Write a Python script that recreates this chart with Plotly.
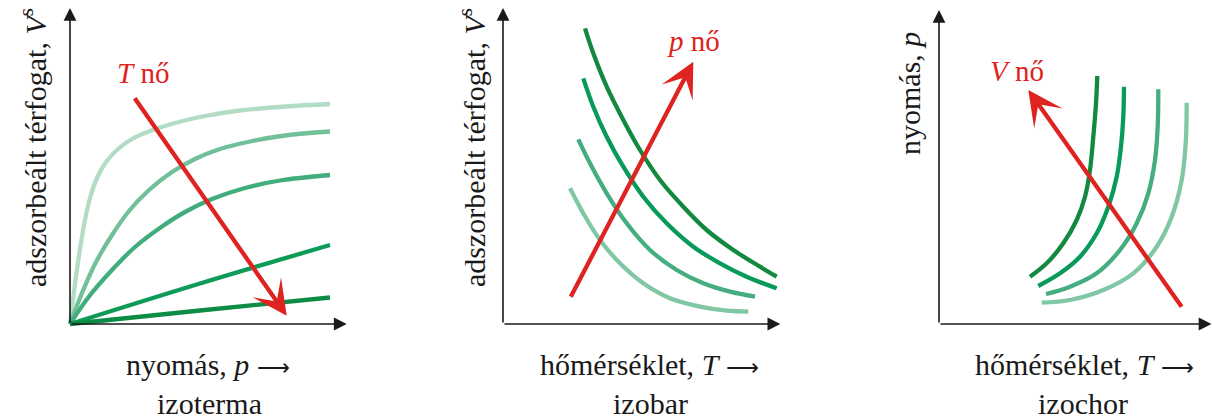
import plotly.graph_objects as go

W, H = 1212, 419

# ---------------- data (offsets from each panel's origin) ----------------
# Panel 1: izoterma  (x = pressure, y = adsorbed volume)
iso1_x = [0, 5, 10, 15, 20, 27, 36, 48, 62, 80, 105, 135, 170, 215, 260]
iso1_y = [0, 40, 75, 104, 126, 146, 162, 175, 185, 193, 201, 208, 213.5, 217.5, 220]
iso2_x = [0, 12, 25, 42, 59, 79, 102, 125, 150, 180, 215, 260]
iso2_y = [0, 31, 60, 89, 113, 134, 152, 165, 175, 182.5, 188.5, 192.5]
iso3_x = [0, 19, 42, 65, 92, 115, 142, 175, 210, 260]
iso3_y = [0, 27.5, 54, 77, 97.5, 112, 125, 136, 143.5, 149]
iso4_x = [0, 130, 260]
iso4_y = [0, 40.5, 79]
iso5_x = [0, 130, 260]
iso5_y = [0, 13.5, 26.5]
iso_arrow = [63.7, 227.3, 216.7, 8.3]      # tail x, tail y, tip x, tip y

# Panel 2: izobar (x = temperature, y = adsorbed volume)
bar1_x = [82, 90.3, 103.7, 120.3, 137, 157, 180.3, 203.7, 230.3, 257, 273.7]
bar1_y = [295.7, 270.7, 237.3, 204, 174, 144, 117.3, 94, 74, 57.3, 47.3]
bar2_x = [80.3, 90.3, 103.7, 120.3, 140.3, 163.7, 190.3, 217, 243.7, 273.7]
bar2_y = [245.7, 217.3, 187.3, 157.3, 127.3, 100.7, 77.3, 60.7, 47.3, 35.7]
bar3_x = [75.3, 87, 103.7, 123.7, 147, 173.7, 200.3, 227, 252]
bar3_y = [184.7, 160.7, 130.7, 100.7, 74, 54, 40.7, 32.3, 27.3]
bar4_x = [67, 80.3, 97, 117, 140.3, 167, 197, 223.7, 245.3]
bar4_y = [135.7, 110.7, 84, 60.7, 40.7, 25.7, 17.3, 13.3, 12.3]
bar_arrow = [67, 25.7, 190.3, 262.3]

# Panel 3: izochor (x = temperature, y = pressure)
cho1_x = [91, 107.7, 124.3, 137.7, 146, 151, 154.3, 157, 158.3]
cho1_y = [47.3, 60.7, 80.7, 104, 127.3, 154, 187.3, 220.7, 248]
cho2_x = [99.3, 121, 141, 157.7, 169.3, 177.7, 182, 184.3, 185]
cho2_y = [38, 50.7, 67.3, 90.7, 117.3, 147.3, 177.3, 207.3, 237.3]
cho3_x = [107, 131, 157.7, 181, 197.7, 209.3, 216, 218.7, 219.3]
cho3_y = [30, 37.3, 50.7, 74, 100.7, 130.7, 164, 197.3, 234.7]
cho4_x = [102.7, 131, 164.3, 194.3, 217.7, 232.7, 242.7, 246.7, 247.7]
cho4_y = [21.3, 24, 34, 50.7, 77.3, 107.3, 144, 180.7, 221.3]
cho_arrow = [243.7, 15.7, 89.3, 234]

# axis extents (x tip, y tip)
axis1 = [276.7, 316]
axis2 = [277.3, 316]
axis3 = [272.5, 314]

# texts
ARROW = '<span style="font-size:23px">⟶</span>'
arrow_labels = ["<i>T</i> nő", "<i>p</i> nő", "<i>V</i> nő"]
x_titles = ["nyomás, <i>p</i> " + ARROW, "hőmérséklet, <i>T</i> " + ARROW,
            "hőmérséklet, <i>T</i> " + ARROW]
y_titles = ["adszorbeált térfogat, <i>V</i><sup>s</sup>",
            "adszorbeált térfogat, <i>V</i><sup>s</sup>",
            "nyomás, <i>p</i>"]
panel_names = ["izoterma", "izobar", "izochor"]

# ---------------- styling ----------------
RED = "#de2320"
GREENS1 = ["#b3dcc5", "#72c09a", "#42ad7c", "#0e9b58", "#0d8c45"]
GREENS2 = ["#12893f", "#089a5a", "#45ad80", "#80c7a4"]
FONT = "Liberation Serif"
LW = 4.3

# pixel origins of the three panels
origins = [(70, 324), (503, 324), (939, 324)]
axes_ext = [axis1, axis2, axis3]
PAD = 4

fig = go.Figure()

panels = [
    [(iso1_x, iso1_y), (iso2_x, iso2_y), (iso3_x, iso3_y), (iso4_x, iso4_y), (iso5_x, iso5_y)],
    [(bar1_x, bar1_y), (bar2_x, bar2_y), (bar3_x, bar3_y), (bar4_x, bar4_y)],
    [(cho1_x, cho1_y), (cho2_x, cho2_y), (cho3_x, cho3_y), (cho4_x, cho4_y)],
]
colors = [GREENS1, GREENS2, GREENS2]
arrows = [iso_arrow, bar_arrow, cho_arrow]
label_pos = [(73, 251), (190, 283), (78, 253)]

layout_axes = {}
annotations = []
for i, (curves, cols) in enumerate(zip(panels, colors)):
    n = "" if i == 0 else str(i + 1)
    xr = f"x{n}"
    yr = f"y{n}"
    for (cx, cy), c in zip(curves, cols):
        fig.add_trace(go.Scatter(x=cx, y=cy, mode="lines", xaxis=xr, yaxis=yr,
                                 line=dict(color=c, width=LW, shape="spline", smoothing=1.0),
                                 hoverinfo="skip", showlegend=False))
    ox, oy = origins[i]
    ex, ey = axes_ext[i]
    xmax = min(ex + PAD, W - ox)
    layout_axes[f"xaxis{n}"] = dict(domain=[(ox - PAD) / W, (ox + xmax) / W],
                                   range=[-PAD, xmax], visible=False,
                                   anchor=yr, fixedrange=True)
    layout_axes[f"yaxis{n}"] = dict(domain=[1 - (oy + PAD) / H, 1 - (oy - ey - PAD) / H],
                                   range=[-PAD, ey + PAD], visible=False,
                                   anchor=xr, fixedrange=True)
    # axes with arrowheads
    for tx, ty in [(ex, 0), (0, ey)]:
        annotations.append(dict(x=tx, y=ty, ax=0, ay=0, xref=xr, yref=yr, axref=xr, ayref=yr,
                                showarrow=True, arrowhead=2, arrowsize=1.6, arrowwidth=1.6,
                                arrowcolor="#1a1a1a", text=""))
    # red trend arrow
    a = arrows[i]
    annotations.append(dict(x=a[2], y=a[3], ax=a[0], ay=a[1], xref=xr, yref=yr, axref=xr, ayref=yr,
                            showarrow=True, arrowhead=3, arrowsize=1.35, arrowwidth=4.3,
                            arrowcolor=RED, text=""))
    # arrow label
    lx, ly = label_pos[i]
    annotations.append(dict(x=lx, y=ly, xref=xr, yref=yr, text=arrow_labels[i], showarrow=False,
                            xanchor="center", yanchor="middle",
                            font=dict(family=FONT, size=29, color=RED)))

# axis titles & panel names (pixel positions)
xt_pos = [(208, 364), (649, 364), (1084, 364)]
nm_pos = [(209, 403), (650, 403), (1083, 403)]
yt_pos = [(33, 148), (472, 148), (909, 94)]
for i in range(3):
    annotations.append(dict(x=xt_pos[i][0] / W, y=1 - xt_pos[i][1] / H, xref="paper", yref="paper",
                            text=x_titles[i], showarrow=False, xanchor="center", yanchor="middle",
                            font=dict(family=FONT, size=30, color="#1a1a1a")))
    annotations.append(dict(x=nm_pos[i][0] / W, y=1 - nm_pos[i][1] / H, xref="paper", yref="paper",
                            text=panel_names[i], showarrow=False, xanchor="center", yanchor="middle",
                            font=dict(family=FONT, size=30, color="#1a1a1a")))
    annotations.append(dict(x=yt_pos[i][0] / W, y=1 - yt_pos[i][1] / H, xref="paper", yref="paper",
                            text=y_titles[i], showarrow=False, textangle=-90,
                            xanchor="center", yanchor="middle",
                            font=dict(family=FONT, size=30, color="#1a1a1a")))

fig.update_layout(width=W, height=H, margin=dict(l=0, r=0, t=0, b=0),
                  paper_bgcolor="white", plot_bgcolor="rgba(0,0,0,0)",
                  annotations=annotations, **layout_axes)

fig.write_html("out.html", config={"displayModeBar": False},
               post_script="document.body.style.margin='0px';")
